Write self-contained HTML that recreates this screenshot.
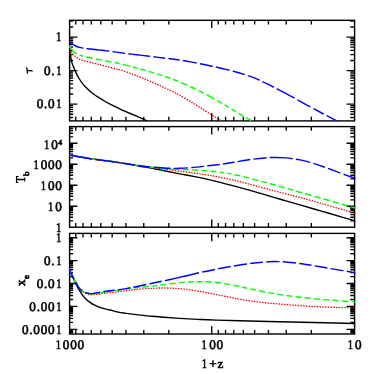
<!DOCTYPE html>
<html><head><meta charset="utf-8"><title>plot</title>
<style>
html,body{margin:0;padding:0;background:#fff;}
body{width:374px;height:374px;overflow:hidden;font-family:"Liberation Serif",serif;}
svg{display:block;}
</style></head><body>
<svg width="374" height="374" viewBox="0 0 374 374">
<rect width="374" height="374" fill="#fff"/>
<defs><clipPath id="ctop"><rect x="68.90" y="20.10" width="286.40" height="101.00"/></clipPath><clipPath id="cmid"><rect x="68.90" y="126.40" width="286.40" height="101.00"/></clipPath><clipPath id="cbot"><rect x="68.90" y="233.20" width="286.40" height="101.00"/></clipPath><filter id="noop" x="0" y="0" width="374" height="374" filterUnits="userSpaceOnUse"><feOffset dx="0" dy="0"/></filter></defs>
<path d="M211.75,20.30L211.75,28.10M211.75,120.90L211.75,113.10M168.85,20.30L168.85,24.40M168.85,120.90L168.85,116.80M143.76,20.30L143.76,24.40M143.76,120.90L143.76,116.80M125.96,20.30L125.96,24.40M125.96,120.90L125.96,116.80M112.15,20.30L112.15,24.40M112.15,120.90L112.15,116.80M100.86,20.30L100.86,24.40M100.86,120.90L100.86,116.80M91.32,20.30L91.32,24.40M91.32,120.90L91.32,116.80M83.06,20.30L83.06,24.40M83.06,120.90L83.06,116.80M75.77,20.30L75.77,24.40M75.77,120.90L75.77,116.80M311.35,20.30L311.35,24.40M311.35,120.90L311.35,116.80M286.26,20.30L286.26,24.40M286.26,120.90L286.26,116.80M268.46,20.30L268.46,24.40M268.46,120.90L268.46,116.80M254.65,20.30L254.65,24.40M254.65,120.90L254.65,116.80M243.36,20.30L243.36,24.40M243.36,120.90L243.36,116.80M233.82,20.30L233.82,24.40M233.82,120.90L233.82,116.80M225.56,20.30L225.56,24.40M225.56,120.90L225.56,116.80M218.27,20.30L218.27,24.40M218.27,120.90L218.27,116.80M69.60,117.47L73.10,117.47M354.60,117.47L350.30,117.47M69.60,114.22L73.10,114.22M354.60,114.22L350.30,114.22M69.60,111.56L73.10,111.56M354.60,111.56L350.30,111.56M69.60,109.32L73.10,109.32M354.60,109.32L350.30,109.32M69.60,107.37L73.10,107.37M354.60,107.37L350.30,107.37M69.60,105.66L73.10,105.66M354.60,105.66L350.30,105.66M69.60,104.12L77.40,104.12M354.60,104.12L346.50,104.12M69.60,94.03L73.10,94.03M354.60,94.03L350.30,94.03M69.60,88.13L73.10,88.13M354.60,88.13L350.30,88.13M69.60,83.94L73.10,83.94M354.60,83.94L350.30,83.94M69.60,80.69L73.10,80.69M354.60,80.69L350.30,80.69M69.60,78.03L73.10,78.03M354.60,78.03L350.30,78.03M69.60,75.79L73.10,75.79M354.60,75.79L350.30,75.79M69.60,73.84L73.10,73.84M354.60,73.84L350.30,73.84M69.60,72.13L73.10,72.13M354.60,72.13L350.30,72.13M69.60,70.59L77.40,70.59M354.60,70.59L346.50,70.59M69.60,60.50L73.10,60.50M354.60,60.50L350.30,60.50M69.60,54.60L73.10,54.60M354.60,54.60L350.30,54.60M69.60,50.41L73.10,50.41M354.60,50.41L350.30,50.41M69.60,47.16L73.10,47.16M354.60,47.16L350.30,47.16M69.60,44.50L73.10,44.50M354.60,44.50L350.30,44.50M69.60,42.26L73.10,42.26M354.60,42.26L350.30,42.26M69.60,40.31L73.10,40.31M354.60,40.31L350.30,40.31M69.60,38.60L73.10,38.60M354.60,38.60L350.30,38.60M69.60,37.06L77.40,37.06M354.60,37.06L346.50,37.06M69.60,26.97L73.10,26.97M354.60,26.97L350.30,26.97M69.60,21.07L73.10,21.07M354.60,21.07L350.30,21.07" fill="none" stroke="#000" stroke-width="1.35"/>
<rect x="69.6" y="20.3" width="285.00" height="100.60" fill="none" stroke="#000" stroke-width="1.4"/>
<path d="M211.75,126.60L211.75,134.40M211.75,227.20L211.75,219.40M168.85,126.60L168.85,130.70M168.85,227.20L168.85,223.10M143.76,126.60L143.76,130.70M143.76,227.20L143.76,223.10M125.96,126.60L125.96,130.70M125.96,227.20L125.96,223.10M112.15,126.60L112.15,130.70M112.15,227.20L112.15,223.10M100.86,126.60L100.86,130.70M100.86,227.20L100.86,223.10M91.32,126.60L91.32,130.70M91.32,227.20L91.32,223.10M83.06,126.60L83.06,130.70M83.06,227.20L83.06,223.10M75.77,126.60L75.77,130.70M75.77,227.20L75.77,223.10M311.35,126.60L311.35,130.70M311.35,227.20L311.35,223.10M286.26,126.60L286.26,130.70M286.26,227.20L286.26,223.10M268.46,126.60L268.46,130.70M268.46,227.20L268.46,223.10M254.65,126.60L254.65,130.70M254.65,227.20L254.65,223.10M243.36,126.60L243.36,130.70M243.36,227.20L243.36,223.10M233.82,126.60L233.82,130.70M233.82,227.20L233.82,223.10M225.56,126.60L225.56,130.70M225.56,227.20L225.56,223.10M218.27,126.60L218.27,130.70M218.27,227.20L218.27,223.10M69.60,220.93L73.10,220.93M354.60,220.93L350.30,220.93M69.60,217.23L73.10,217.23M354.60,217.23L350.30,217.23M69.60,214.61L73.10,214.61M354.60,214.61L350.30,214.61M69.60,212.57L73.10,212.57M354.60,212.57L350.30,212.57M69.60,210.91L73.10,210.91M354.60,210.91L350.30,210.91M69.60,209.50L73.10,209.50M354.60,209.50L350.30,209.50M69.60,208.29L73.10,208.29M354.60,208.29L350.30,208.29M69.60,207.21L73.10,207.21M354.60,207.21L350.30,207.21M69.60,206.25L77.40,206.25M354.60,206.25L346.50,206.25M69.60,199.93L73.10,199.93M354.60,199.93L350.30,199.93M69.60,196.23L73.10,196.23M354.60,196.23L350.30,196.23M69.60,193.61L73.10,193.61M354.60,193.61L350.30,193.61M69.60,191.57L73.10,191.57M354.60,191.57L350.30,191.57M69.60,189.91L73.10,189.91M354.60,189.91L350.30,189.91M69.60,188.50L73.10,188.50M354.60,188.50L350.30,188.50M69.60,187.29L73.10,187.29M354.60,187.29L350.30,187.29M69.60,186.21L73.10,186.21M354.60,186.21L350.30,186.21M69.60,185.25L77.40,185.25M354.60,185.25L346.50,185.25M69.60,178.93L73.10,178.93M354.60,178.93L350.30,178.93M69.60,175.23L73.10,175.23M354.60,175.23L350.30,175.23M69.60,172.61L73.10,172.61M354.60,172.61L350.30,172.61M69.60,170.57L73.10,170.57M354.60,170.57L350.30,170.57M69.60,168.91L73.10,168.91M354.60,168.91L350.30,168.91M69.60,167.50L73.10,167.50M354.60,167.50L350.30,167.50M69.60,166.29L73.10,166.29M354.60,166.29L350.30,166.29M69.60,165.21L73.10,165.21M354.60,165.21L350.30,165.21M69.60,164.25L77.40,164.25M354.60,164.25L346.50,164.25M69.60,157.93L73.10,157.93M354.60,157.93L350.30,157.93M69.60,154.23L73.10,154.23M354.60,154.23L350.30,154.23M69.60,151.61L73.10,151.61M354.60,151.61L350.30,151.61M69.60,149.57L73.10,149.57M354.60,149.57L350.30,149.57M69.60,147.91L73.10,147.91M354.60,147.91L350.30,147.91M69.60,146.50L73.10,146.50M354.60,146.50L350.30,146.50M69.60,145.29L73.10,145.29M354.60,145.29L350.30,145.29M69.60,144.21L73.10,144.21M354.60,144.21L350.30,144.21M69.60,143.25L77.40,143.25M354.60,143.25L346.50,143.25M69.60,136.93L73.10,136.93M354.60,136.93L350.30,136.93M69.60,133.23L73.10,133.23M354.60,133.23L350.30,133.23M69.60,130.61L73.10,130.61M354.60,130.61L350.30,130.61M69.60,128.57L73.10,128.57M354.60,128.57L350.30,128.57M69.60,126.91L73.10,126.91M354.60,126.91L350.30,126.91" fill="none" stroke="#000" stroke-width="1.35"/>
<rect x="69.6" y="126.6" width="285.00" height="100.60" fill="none" stroke="#000" stroke-width="1.4"/>
<path d="M211.75,233.40L211.75,241.20M211.75,334.00L211.75,326.20M168.85,233.40L168.85,237.50M168.85,334.00L168.85,329.90M143.76,233.40L143.76,237.50M143.76,334.00L143.76,329.90M125.96,233.40L125.96,237.50M125.96,334.00L125.96,329.90M112.15,233.40L112.15,237.50M112.15,334.00L112.15,329.90M100.86,233.40L100.86,237.50M100.86,334.00L100.86,329.90M91.32,233.40L91.32,237.50M91.32,334.00L91.32,329.90M83.06,233.40L83.06,237.50M83.06,334.00L83.06,329.90M75.77,233.40L75.77,237.50M75.77,334.00L75.77,329.90M311.35,233.40L311.35,237.50M311.35,334.00L311.35,329.90M286.26,233.40L286.26,237.50M286.26,334.00L286.26,329.90M268.46,233.40L268.46,237.50M268.46,334.00L268.46,329.90M254.65,233.40L254.65,237.50M254.65,334.00L254.65,329.90M243.36,233.40L243.36,237.50M243.36,334.00L243.36,329.90M233.82,233.40L233.82,237.50M233.82,334.00L233.82,329.90M225.56,233.40L225.56,237.50M225.56,334.00L225.56,329.90M218.27,233.40L218.27,237.50M218.27,334.00L218.27,329.90M69.60,332.85L73.10,332.85M354.60,332.85L350.30,332.85M69.60,331.52L73.10,331.52M354.60,331.52L350.30,331.52M69.60,330.35L73.10,330.35M354.60,330.35L350.30,330.35M69.60,329.30L77.40,329.30M354.60,329.30L346.50,329.30M69.60,322.41L73.10,322.41M354.60,322.41L350.30,322.41M69.60,318.37L73.10,318.37M354.60,318.37L350.30,318.37M69.60,315.51L73.10,315.51M354.60,315.51L350.30,315.51M69.60,313.29L73.10,313.29M354.60,313.29L350.30,313.29M69.60,311.48L73.10,311.48M354.60,311.48L350.30,311.48M69.60,309.95L73.10,309.95M354.60,309.95L350.30,309.95M69.60,308.62L73.10,308.62M354.60,308.62L350.30,308.62M69.60,307.45L73.10,307.45M354.60,307.45L350.30,307.45M69.60,306.40L77.40,306.40M354.60,306.40L346.50,306.40M69.60,299.51L73.10,299.51M354.60,299.51L350.30,299.51M69.60,295.47L73.10,295.47M354.60,295.47L350.30,295.47M69.60,292.61L73.10,292.61M354.60,292.61L350.30,292.61M69.60,290.39L73.10,290.39M354.60,290.39L350.30,290.39M69.60,288.58L73.10,288.58M354.60,288.58L350.30,288.58M69.60,287.05L73.10,287.05M354.60,287.05L350.30,287.05M69.60,285.72L73.10,285.72M354.60,285.72L350.30,285.72M69.60,284.55L73.10,284.55M354.60,284.55L350.30,284.55M69.60,283.50L77.40,283.50M354.60,283.50L346.50,283.50M69.60,276.61L73.10,276.61M354.60,276.61L350.30,276.61M69.60,272.57L73.10,272.57M354.60,272.57L350.30,272.57M69.60,269.71L73.10,269.71M354.60,269.71L350.30,269.71M69.60,267.49L73.10,267.49M354.60,267.49L350.30,267.49M69.60,265.68L73.10,265.68M354.60,265.68L350.30,265.68M69.60,264.15L73.10,264.15M354.60,264.15L350.30,264.15M69.60,262.82L73.10,262.82M354.60,262.82L350.30,262.82M69.60,261.65L73.10,261.65M354.60,261.65L350.30,261.65M69.60,260.60L77.40,260.60M354.60,260.60L346.50,260.60M69.60,253.71L73.10,253.71M354.60,253.71L350.30,253.71M69.60,249.67L73.10,249.67M354.60,249.67L350.30,249.67M69.60,246.81L73.10,246.81M354.60,246.81L350.30,246.81M69.60,244.59L73.10,244.59M354.60,244.59L350.30,244.59M69.60,242.78L73.10,242.78M354.60,242.78L350.30,242.78M69.60,241.25L73.10,241.25M354.60,241.25L350.30,241.25M69.60,239.92L73.10,239.92M354.60,239.92L350.30,239.92M69.60,238.75L73.10,238.75M354.60,238.75L350.30,238.75M69.60,237.70L77.40,237.70M354.60,237.70L346.50,237.70" fill="none" stroke="#000" stroke-width="1.35"/>
<rect x="69.6" y="233.4" width="285.00" height="100.60" fill="none" stroke="#000" stroke-width="1.4"/>
<g clip-path="url(#ctop)" fill="none">
<path d="M69.20,48.00 C69.33,48.67 69.60,49.73 70.00,52.00 C70.40,54.27 70.93,58.93 71.60,61.60 C72.27,64.27 73.20,66.00 74.00,68.00 C74.80,70.00 75.60,71.93 76.40,73.60 C77.20,75.27 77.87,76.47 78.80,78.00 C79.73,79.53 80.78,81.20 82.00,82.80 C83.22,84.40 84.75,86.18 86.10,87.60 C87.45,89.02 88.77,90.15 90.10,91.30 C91.43,92.45 92.77,93.52 94.10,94.50 C95.43,95.48 96.10,95.95 98.10,97.20 C100.10,98.45 103.43,100.50 106.10,102.00 C108.77,103.50 111.42,104.85 114.10,106.20 C116.78,107.55 120.22,109.18 122.20,110.10 C124.18,111.02 124.47,111.05 126.00,111.70 C127.53,112.35 128.53,112.77 131.40,114.00 C134.27,115.23 140.60,117.97 143.20,119.10 C145.80,120.23 146.37,120.52 147.00,120.80" stroke="#000000" stroke-width="1.4"/>
<path d="M69.20,46.80 C69.47,47.40 70.27,49.33 70.80,50.40 C71.33,51.47 71.87,52.40 72.40,53.20 C72.93,54.00 73.33,54.52 74.00,55.20 C74.67,55.88 75.60,56.68 76.40,57.30 C77.20,57.92 77.87,58.43 78.80,58.90 C79.73,59.37 80.80,59.70 82.00,60.10 C83.20,60.50 84.65,60.95 86.00,61.30 C87.35,61.65 88.60,61.85 90.10,62.20 C91.60,62.55 93.45,63.02 95.00,63.40 C96.55,63.78 97.55,64.02 99.40,64.50 C101.25,64.98 103.42,65.58 106.10,66.30 C108.78,67.02 113.07,68.18 115.50,68.80 C117.93,69.42 118.05,69.17 120.70,70.00 C123.35,70.83 127.83,72.48 131.40,73.80 C134.97,75.12 138.53,76.46 142.10,77.90 C145.67,79.34 149.23,80.89 152.80,82.44 C156.37,83.99 159.93,85.56 163.50,87.22 C167.07,88.88 171.45,91.02 174.20,92.38 C176.95,93.74 177.25,93.82 180.00,95.37 C182.75,96.92 187.13,99.51 190.70,101.68 C194.27,103.86 197.83,106.16 201.40,108.42 C204.97,110.68 209.25,113.44 212.10,115.22 C214.95,117.00 216.85,118.11 218.50,119.11 C220.15,120.11 221.42,120.85 222.00,121.20" stroke="#ff0000" stroke-width="1.4" stroke-dasharray="0.3 2.45" stroke-linecap="round"/>
<path d="M69.20,45.60 C69.47,46.07 70.27,47.60 70.80,48.40 C71.33,49.20 71.87,49.80 72.40,50.40 C72.93,51.00 73.47,51.53 74.00,52.00 C74.53,52.47 74.80,52.73 75.60,53.20 C76.40,53.67 77.73,54.35 78.80,54.80 C79.87,55.25 80.65,55.53 82.00,55.90 C83.35,56.27 85.12,56.62 86.90,57.00 C88.68,57.38 90.62,57.77 92.70,58.20 C94.78,58.63 97.17,59.13 99.40,59.60 C101.63,60.07 103.42,60.47 106.10,61.00 C108.78,61.53 113.07,62.30 115.50,62.80 C117.93,63.30 118.05,63.38 120.70,64.00 C123.35,64.62 127.83,65.58 131.40,66.50 C134.97,67.42 138.53,68.48 142.10,69.50 C145.67,70.52 149.23,71.51 152.80,72.60 C156.37,73.69 159.93,74.83 163.50,76.02 C167.07,77.21 171.45,78.73 174.20,79.74 C176.95,80.75 177.25,80.91 180.00,82.08 C182.75,83.25 187.13,85.09 190.70,86.74 C194.27,88.39 197.83,90.12 201.40,91.96 C204.97,93.80 208.53,95.80 212.10,97.78 C215.67,99.76 219.23,101.75 222.80,103.82 C226.37,105.89 229.93,108.06 233.50,110.18 C237.07,112.30 241.53,114.98 244.20,116.55 C246.87,118.12 248.03,118.76 249.50,119.60 C250.97,120.44 252.42,121.27 253.00,121.60" stroke="#00ff00" stroke-width="1.45" stroke-dasharray="11.38 3.20 3.62 3.20 6.66 3.20 6.41 3.20 6.12 3.20 5.30 3.20 7.48 3.20 4.38 3.20 5.54 3.20 5.31 3.20 5.42 3.20 5.15 3.20 5.71 3.20 6.66 3.20 6.09 3.20 5.58 3.20 9.03 3.20 5.43 3.20 4.88 3.20 4.95 3.20 5.29 3.20 6.15 3.20 6.15 3.20 6.15 3.20 6.15 3.20 6.15 3.20 6.15 3.20 6.15 3.20 6.15 3.20 6.15 3.20 6.15 3.20 6.15 3.20 6.15 3.20 6.15 3.20 6.15 3.20 6.15 3.20 6.15 3.20 6.15 3.20 6.15 3.20 6.15 3.20 6.15 3.20 6.15 3.20 6.15 3.20 6.15 3.20 6.15 3.20 6.15 3.20 6.15 3.20 6.15 3.20 6.15 3.20 6.15 3.20 6.15 3.20 6.15 3.20 6.15 3.20 6.15 3.20 6.15 3.20 6.15 3.20 6.15 3.20 6.15 3.20 6.15 3.20 6.15 3.20 6.15 3.20 6.15 3.20 6.15 3.20 6.15 3.20 6.15 3.20 6.15 3.20 6.15 3.20 6.15 3.20 6.15 3.20 6.15 3.20 6.15 3.20 6.15 3.20 6.15 3.20 6.15 3.20 6.15 3.20 6.15 3.20 6.15 3.20 6.15 3.20 6.15 3.20 6.15 3.20 6.15 3.20"/>
<path d="M69.20,41.20 C69.73,41.67 71.33,43.20 72.40,44.00 C73.47,44.80 74.40,45.43 75.60,46.00 C76.80,46.57 78.27,47.03 79.60,47.40 C80.93,47.77 82.32,47.98 83.60,48.20 C84.88,48.42 85.78,48.52 87.30,48.70 C88.82,48.88 90.68,49.07 92.70,49.30 C94.72,49.53 97.17,49.83 99.40,50.10 C101.63,50.37 104.33,50.72 106.10,50.90 C107.87,51.08 107.57,50.88 110.00,51.20 C112.43,51.52 117.13,52.32 120.70,52.80 C124.27,53.28 127.83,53.67 131.40,54.10 C134.97,54.53 138.53,54.97 142.10,55.40 C145.67,55.83 149.23,56.27 152.80,56.70 C156.37,57.13 159.93,57.57 163.50,58.00 C167.07,58.43 171.45,58.95 174.20,59.30 C176.95,59.64 177.25,59.64 180.00,60.07 C182.75,60.50 187.13,61.23 190.70,61.88 C194.27,62.53 197.83,63.26 201.40,63.98 C204.97,64.70 208.53,65.42 212.10,66.20 C215.67,66.98 219.23,67.83 222.80,68.68 C226.37,69.53 229.93,70.36 233.50,71.30 C237.07,72.24 240.63,73.20 244.20,74.34 C247.77,75.48 251.48,76.78 254.90,78.17 C258.32,79.56 260.62,80.67 264.70,82.66 C268.78,84.65 274.50,87.55 279.40,90.10 C284.30,92.65 289.20,95.31 294.10,97.98 C299.00,100.65 303.90,103.45 308.80,106.12 C313.70,108.79 319.08,111.68 323.50,114.00 C327.92,116.32 332.72,118.72 335.30,120.05 C337.88,121.38 338.38,121.67 339.00,122.00" stroke="#0000ff" stroke-width="1.45" stroke-dasharray="16.12 3.30 23.07 3.30 12.45 3.30 21.98 3.30 11.71 3.30 11.42 3.30 13.88 3.30 13.15 3.30 13.87 3.30 12.62 3.30 12.54 3.30 12.56 3.30 20.16 3.30 14.75 3.30 11.88 3.30 2000.00 1.00"/>
</g>
<g clip-path="url(#cmid)" fill="none">
<path d="M69.30,155.00 C72.87,155.62 82.67,157.47 90.70,158.70 C98.73,159.93 109.28,161.15 117.50,162.40 C125.72,163.65 134.02,165.19 140.00,166.20 C145.98,167.21 148.95,167.64 153.40,168.48 C157.85,169.32 162.25,170.34 166.70,171.24 C171.15,172.14 175.63,173.05 180.10,173.90 C184.57,174.75 189.05,175.46 193.50,176.34 C197.95,177.22 202.35,178.16 206.80,179.16 C211.25,180.16 215.73,181.25 220.20,182.36 C224.67,183.47 229.07,184.62 233.60,185.84 C238.13,187.06 242.20,188.18 247.40,189.65 C252.60,191.12 259.02,193.01 264.80,194.69 C270.58,196.37 276.23,198.01 282.10,199.71 C287.97,201.41 293.45,203.00 300.00,204.90 C306.55,206.80 314.27,209.03 321.40,211.10 C328.53,213.17 337.45,215.75 342.80,217.30 C348.15,218.85 351.13,219.72 353.50,220.40 C355.87,221.08 356.42,221.23 357.00,221.40" stroke="#000000" stroke-width="1.4"/>
<path d="M69.30,155.00 C72.87,155.62 82.67,157.47 90.70,158.70 C98.73,159.93 109.28,161.20 117.50,162.40 C125.72,163.60 134.02,165.01 140.00,165.90 C145.98,166.79 148.95,167.15 153.40,167.74 C157.85,168.33 162.25,168.88 166.70,169.46 C171.15,170.04 175.63,170.64 180.10,171.22 C184.57,171.80 189.05,172.30 193.50,172.92 C197.95,173.54 202.35,174.21 206.80,174.94 C211.25,175.67 215.73,176.42 220.20,177.28 C224.67,178.14 229.07,179.02 233.60,180.08 C238.13,181.14 242.20,182.24 247.40,183.62 C252.60,185.00 259.02,186.81 264.80,188.35 C270.58,189.89 276.23,191.33 282.10,192.85 C287.97,194.37 293.45,195.70 300.00,197.47 C306.55,199.24 314.27,201.44 321.40,203.46 C328.53,205.48 337.63,208.09 342.80,209.59 C347.97,211.09 350.03,211.77 352.40,212.49 C354.77,213.21 356.23,213.67 357.00,213.90" stroke="#ff0000" stroke-width="1.4" stroke-dasharray="0.3 2.45" stroke-linecap="round"/>
<path d="M69.30,155.00 C72.87,155.62 82.67,157.47 90.70,158.70 C98.73,159.93 109.28,161.23 117.50,162.40 C125.72,163.57 134.02,164.86 140.00,165.70 C145.98,166.54 148.95,166.92 153.40,167.42 C157.85,167.92 162.25,168.39 166.70,168.72 C171.15,169.05 175.63,169.19 180.10,169.40 C184.57,169.61 189.05,169.73 193.50,169.98 C197.95,170.23 202.35,170.51 206.80,170.90 C211.25,171.29 215.73,171.74 220.20,172.34 C224.67,172.94 229.07,173.60 233.60,174.48 C238.13,175.35 242.20,176.28 247.40,177.59 C252.60,178.90 259.02,180.73 264.80,182.31 C270.58,183.89 276.23,185.40 282.10,187.05 C287.97,188.70 293.45,190.33 300.00,192.20 C306.55,194.07 314.27,196.23 321.40,198.28 C328.53,200.33 337.63,202.99 342.80,204.49 C347.97,205.99 350.03,206.60 352.40,207.29 C354.77,207.97 356.23,208.38 357.00,208.60" stroke="#00ff00" stroke-width="1.45" stroke-dasharray="6.22 3.20 6.34 3.20 9.54 3.20 9.51 3.20 6.29 3.20 6.30 3.20 6.30 3.20 4.57 3.20 7.97 3.20 6.24 3.20 9.87 3.20 6.16 3.20 6.17 3.20 6.18 3.20 5.90 3.20 4.32 3.20 4.41 3.20 5.85 3.20 5.92 3.20 5.98 3.20 5.98 3.20 5.97 3.20 5.99 3.20 5.65 3.20 6.37 3.20 6.26 3.20 6.26 3.20 6.27 3.20 6.28 3.20 6.28 3.20 6.00 3.20 6.00 3.20 6.00 3.20 6.00 3.20 6.00 3.20 6.00 3.20 6.00 3.20 6.00 3.20 6.00 3.20 6.00 3.20 6.00 3.20 6.00 3.20 6.00 3.20 6.00 3.20 6.00 3.20 6.00 3.20 6.00 3.20 6.00 3.20 6.00 3.20 6.00 3.20 6.00 3.20 6.00 3.20 6.00 3.20 6.00 3.20 6.00 3.20 6.00 3.20 6.00 3.20 6.00 3.20 6.00 3.20 6.00 3.20 6.00 3.20 6.00 3.20 6.00 3.20 6.00 3.20 6.00 3.20 6.00 3.20 6.00 3.20 6.00 3.20 6.00 3.20 6.00 3.20 6.00 3.20 6.00 3.20 6.00 3.20 6.00 3.20 6.00 3.20 6.00 3.20 6.00 3.20 6.00 3.20 6.00 3.20 6.00 3.20 6.00 3.20 6.00 3.20 6.00 3.20 6.00 3.20 6.00 3.20 6.00 3.20 6.00 3.20 6.00 3.20 6.00 3.20 6.00 3.20"/>
<path d="M69.30,155.00 C72.87,155.62 82.67,157.47 90.70,158.70 C98.73,159.93 109.28,161.23 117.50,162.40 C125.72,163.57 134.02,164.90 140.00,165.70 C145.98,166.50 148.95,166.77 153.40,167.18 C157.85,167.59 162.25,167.97 166.70,168.16 C171.15,168.35 175.63,168.45 180.10,168.32 C184.57,168.19 189.05,167.80 193.50,167.40 C197.95,167.00 202.35,166.44 206.80,165.94 C211.25,165.44 215.73,164.98 220.20,164.38 C224.67,163.78 229.07,163.07 233.60,162.33 C238.13,161.59 242.20,160.66 247.40,159.93 C252.60,159.20 260.17,158.35 264.80,157.94 C269.43,157.53 271.73,157.47 275.20,157.46 C278.67,157.45 281.47,157.46 285.60,157.87 C289.73,158.28 295.82,159.12 300.00,159.90 C304.18,160.68 307.13,161.53 310.70,162.56 C314.27,163.59 317.83,164.83 321.40,166.06 C324.97,167.29 328.53,168.63 332.10,169.94 C335.67,171.25 339.23,172.63 342.80,173.94 C346.37,175.25 351.13,176.95 353.50,177.79 C355.87,178.63 356.42,178.80 357.00,179.00" stroke="#0000ff" stroke-width="1.45" stroke-dasharray="23.10 3.30 24.26 3.30 12.17 3.30 12.61 3.30 16.75 3.30 14.22 3.30 12.69 3.30 12.71 3.30 11.48 3.30 12.91 3.30 12.79 3.30 22.99 3.30 14.76 3.30 12.12 3.30 13.34 3.30 2000.00 1.00"/>
</g>
<g clip-path="url(#cbot)" fill="none">
<path d="M69.20,268.80 C69.73,270.03 71.47,274.07 72.40,276.20 C73.33,278.33 73.87,279.63 74.80,281.60 C75.73,283.57 76.80,285.87 78.00,288.00 C79.20,290.13 80.67,292.52 82.00,294.40 C83.33,296.28 84.65,297.97 86.00,299.30 C87.35,300.63 88.75,301.48 90.10,302.40 C91.45,303.32 92.10,303.85 94.10,304.80 C96.10,305.75 99.43,307.23 102.10,308.10 C104.77,308.97 107.43,309.33 110.10,310.00 C112.77,310.67 115.42,311.53 118.10,312.10 C120.78,312.67 123.22,312.98 126.20,313.40 C129.18,313.82 131.68,314.12 136.00,314.60 C140.32,315.08 146.75,315.79 152.10,316.28 C157.45,316.77 162.75,317.17 168.10,317.56 C173.45,317.95 178.85,318.27 184.20,318.60 C189.55,318.93 194.87,319.26 200.20,319.52 C205.53,319.78 209.57,319.94 216.20,320.15 C222.83,320.36 231.30,320.58 240.00,320.80 C248.70,321.02 258.10,321.24 268.40,321.48 C278.70,321.72 290.65,321.96 301.80,322.22 C312.95,322.48 326.67,322.81 335.30,323.02 C343.93,323.23 349.98,323.40 353.60,323.50 C357.22,323.60 356.43,323.58 357.00,323.60" stroke="#000000" stroke-width="1.4"/>
<path d="M69.20,268.80 C69.73,269.98 71.47,273.90 72.40,275.90 C73.33,277.90 73.87,279.05 74.80,280.80 C75.73,282.55 76.80,284.67 78.00,286.40 C79.20,288.13 80.67,290.00 82.00,291.20 C83.33,292.40 84.65,293.00 86.00,293.60 C87.35,294.20 88.75,294.63 90.10,294.80 C91.45,294.97 92.10,294.80 94.10,294.60 C96.10,294.40 99.43,293.95 102.10,293.60 C104.77,293.25 107.43,292.83 110.10,292.50 C112.77,292.17 115.42,291.92 118.10,291.60 C120.78,291.28 123.22,290.97 126.20,290.60 C129.18,290.23 131.68,289.78 136.00,289.40 C140.32,289.02 146.75,288.52 152.10,288.30 C157.45,288.08 162.75,287.93 168.10,288.06 C173.45,288.19 178.85,288.54 184.20,289.10 C189.55,289.66 194.87,290.54 200.20,291.44 C205.53,292.34 210.85,293.45 216.20,294.50 C221.55,295.55 228.33,296.95 232.30,297.75 C236.27,298.55 236.77,298.72 240.00,299.28 C243.23,299.84 246.97,300.48 251.70,301.11 C256.43,301.74 262.83,302.50 268.40,303.06 C273.97,303.62 279.53,304.05 285.10,304.50 C290.67,304.95 296.22,305.37 301.80,305.74 C307.38,306.11 313.02,306.46 318.60,306.74 C324.18,307.02 329.47,307.23 335.30,307.41 C341.13,307.59 349.98,307.73 353.60,307.81 C357.22,307.89 356.43,307.88 357.00,307.90" stroke="#ff0000" stroke-width="1.4" stroke-dasharray="0.3 2.45" stroke-linecap="round"/>
<path d="M69.20,268.80 C69.73,269.98 71.47,273.90 72.40,275.90 C73.33,277.90 73.87,279.05 74.80,280.80 C75.73,282.55 76.80,284.72 78.00,286.40 C79.20,288.08 80.67,289.80 82.00,290.90 C83.33,292.00 84.65,292.50 86.00,293.00 C87.35,293.50 88.75,293.78 90.10,293.90 C91.45,294.02 92.10,293.92 94.10,293.70 C96.10,293.48 99.43,292.98 102.10,292.60 C104.77,292.22 107.43,291.82 110.10,291.40 C112.77,290.98 114.78,290.62 118.10,290.10 C121.42,289.58 127.02,288.70 130.00,288.30 C132.98,287.90 132.32,288.07 136.00,287.70 C139.68,287.33 146.75,286.69 152.10,286.10 C157.45,285.51 162.75,284.80 168.10,284.18 C173.45,283.56 178.85,282.80 184.20,282.38 C189.55,281.96 194.87,281.65 200.20,281.66 C205.53,281.67 210.85,281.90 216.20,282.46 C221.55,283.02 228.33,284.33 232.30,285.04 C236.27,285.75 236.77,286.02 240.00,286.71 C243.23,287.40 246.97,288.19 251.70,289.17 C256.43,290.15 262.83,291.57 268.40,292.60 C273.97,293.63 279.53,294.55 285.10,295.36 C290.67,296.17 296.22,296.81 301.80,297.44 C307.38,298.07 313.02,298.61 318.60,299.12 C324.18,299.63 329.47,300.04 335.30,300.48 C341.13,300.93 349.98,301.54 353.60,301.79 C357.22,302.04 356.43,301.97 357.00,302.00" stroke="#00ff00" stroke-width="1.45" stroke-dasharray="19.76 3.20 6.77 3.20 5.78 3.20 5.79 3.20 5.81 3.20 6.82 3.20 5.79 3.20 5.24 3.20 6.25 3.20 5.15 3.20 6.07 3.20 6.27 3.20 6.14 3.20 5.61 3.20 5.60 3.20 5.81 3.20 6.37 3.20 5.94 3.20 6.21 3.20 5.18 3.20 5.38 3.20 6.09 3.20 6.15 3.20 6.11 3.20 5.98 3.20 6.06 3.20 6.05 3.20 6.15 3.20 6.15 3.20 6.15 3.20 6.15 3.20 6.15 3.20 6.15 3.20 6.15 3.20 6.15 3.20 6.15 3.20 6.15 3.20 6.15 3.20 6.15 3.20 6.15 3.20 6.15 3.20 6.15 3.20 6.15 3.20 6.15 3.20 6.15 3.20 6.15 3.20 6.15 3.20 6.15 3.20 6.15 3.20 6.15 3.20 6.15 3.20 6.15 3.20 6.15 3.20 6.15 3.20 6.15 3.20 6.15 3.20 6.15 3.20 6.15 3.20 6.15 3.20 6.15 3.20 6.15 3.20 6.15 3.20 6.15 3.20 6.15 3.20 6.15 3.20 6.15 3.20 6.15 3.20 6.15 3.20 6.15 3.20 6.15 3.20 6.15 3.20 6.15 3.20 6.15 3.20 6.15 3.20 6.15 3.20 6.15 3.20 6.15 3.20 6.15 3.20 6.15 3.20 6.15 3.20 6.15 3.20 6.15 3.20 6.15 3.20 6.15 3.20 6.15 3.20 6.15 3.20 6.15 3.20"/>
<path d="M69.20,268.80 C69.73,269.98 71.47,273.90 72.40,275.90 C73.33,277.90 73.87,279.05 74.80,280.80 C75.73,282.55 76.80,284.72 78.00,286.40 C79.20,288.08 80.67,289.83 82.00,290.90 C83.33,291.97 84.65,292.35 86.00,292.80 C87.35,293.25 88.75,293.52 90.10,293.60 C91.45,293.68 92.10,293.57 94.10,293.30 C96.10,293.03 99.43,292.43 102.10,292.00 C104.77,291.57 107.43,291.05 110.10,290.70 C112.77,290.35 115.42,290.25 118.10,289.90 C120.78,289.55 123.22,289.13 126.20,288.60 C129.18,288.07 131.68,287.58 136.00,286.70 C140.32,285.82 146.75,284.45 152.10,283.32 C157.45,282.19 162.75,281.11 168.10,279.94 C173.45,278.77 178.85,277.54 184.20,276.30 C189.55,275.06 194.87,273.68 200.20,272.50 C205.53,271.32 210.85,270.25 216.20,269.20 C221.55,268.15 226.38,267.21 232.30,266.22 C238.22,265.24 245.68,264.02 251.70,263.29 C257.72,262.56 264.22,262.10 268.40,261.82 C272.58,261.54 274.02,261.58 276.80,261.60 C279.58,261.62 280.93,261.57 285.10,261.93 C289.27,262.29 296.22,262.97 301.80,263.74 C307.38,264.51 313.02,265.63 318.60,266.58 C324.18,267.52 329.47,268.44 335.30,269.41 C341.13,270.38 349.98,271.81 353.60,272.41 C357.22,273.01 356.43,272.90 357.00,273.00" stroke="#0000ff" stroke-width="1.45" stroke-dasharray="11.59 3.30 11.20 3.30 14.96 3.30 11.54 3.30 12.52 3.30 12.94 3.30 12.44 3.30 35.07 3.30 12.93 3.30 12.87 3.30 12.89 3.30 12.68 3.30 13.52 3.30 13.17 3.30 12.39 3.30 12.94 3.30 12.92 3.30 2000.00 1.00"/>
</g>
<g font-family="Liberation Serif, serif" font-size="13.2" fill="#000" stroke="#000" stroke-width="0.6" text-rendering="geometricPrecision" filter="url(#noop)">
<text transform="translate(58.55,41.27) scale(0.8,1)" text-anchor="middle">1</text>
<text transform="translate(58.85,74.80) scale(0.8,1)" text-anchor="middle">1</text>
<text x="43.95 51.25" y="74.80">0.</text>
<text transform="translate(58.85,108.33) scale(0.8,1)" text-anchor="middle">1</text>
<text x="36.65 43.95 47.95" y="108.33">0.0</text>
<text transform="translate(36.15,168.75) scale(0.8,1)" text-anchor="middle">1</text>
<text x="40.65 47.95 55.25" y="168.75">000</text>
<text transform="translate(43.45,189.75) scale(0.8,1)" text-anchor="middle">1</text>
<text x="47.95 55.25" y="189.75">00</text>
<text transform="translate(50.75,210.75) scale(0.8,1)" text-anchor="middle">1</text>
<text x="55.25" y="210.75">0</text>
<text transform="translate(58.55,231.75) scale(0.8,1)" text-anchor="middle">1</text>
<text transform="translate(46.75,148.55) scale(0.8,1)" text-anchor="middle">1</text>
<text x="51.25" y="148.55">0</text>
<text x="58.3" y="145.05" font-size="7.8" stroke-width="0.6">4</text>
<text transform="translate(58.55,242.10) scale(0.8,1)" text-anchor="middle">1</text>
<text transform="translate(58.85,265.00) scale(0.8,1)" text-anchor="middle">1</text>
<text x="43.95 51.25" y="265.00">0.</text>
<text transform="translate(58.85,287.90) scale(0.8,1)" text-anchor="middle">1</text>
<text x="36.65 43.95 47.95" y="287.90">0.0</text>
<text transform="translate(58.85,310.80) scale(0.8,1)" text-anchor="middle">1</text>
<text x="29.35 36.65 40.65 47.95" y="310.80">0.00</text>
<text transform="translate(58.85,333.70) scale(0.8,1)" text-anchor="middle">1</text>
<text x="22.05 29.35 33.35 40.65 47.95" y="333.70">0.000</text>
<text transform="translate(58.35,349.30) scale(0.8,1)" text-anchor="middle">1</text>
<text x="62.85 70.15 77.45" y="349.30">000</text>
<text transform="translate(204.20,349.30) scale(0.8,1)" text-anchor="middle">1</text>
<text x="209.20 216.50" y="349.30">00</text>
<text transform="translate(350.45,349.30) scale(0.8,1)" text-anchor="middle">1</text>
<text x="354.95" y="349.30">0</text>
<text transform="translate(204.5,367.7) scale(0.8,1)" text-anchor="middle">1</text><text x="209.3 217.6" y="367.7">+z</text>
<path d="M26.85,67.9 L27.45,73.0 M27.3,70.35 L32.2,70.9" fill="none" stroke="#000" stroke-width="1.35" stroke-linecap="round"/>
<g transform="translate(25.4,182.9) rotate(-90)"><text x="0" y="0" font-size="13.4" textLength="6.9" lengthAdjust="spacingAndGlyphs">T</text><text x="6.9" y="3.6" font-size="8" textLength="4.6" lengthAdjust="spacingAndGlyphs" stroke-width="0.6">b</text></g>
<g transform="translate(25.0,285.9) rotate(-90)"><text x="0" y="0" font-size="13" textLength="6.5" lengthAdjust="spacingAndGlyphs">x</text><text x="6.9" y="4.2" font-size="8.6" textLength="4" lengthAdjust="spacingAndGlyphs" stroke-width="0.7">e</text></g>
</g>
</svg>
</body></html>
